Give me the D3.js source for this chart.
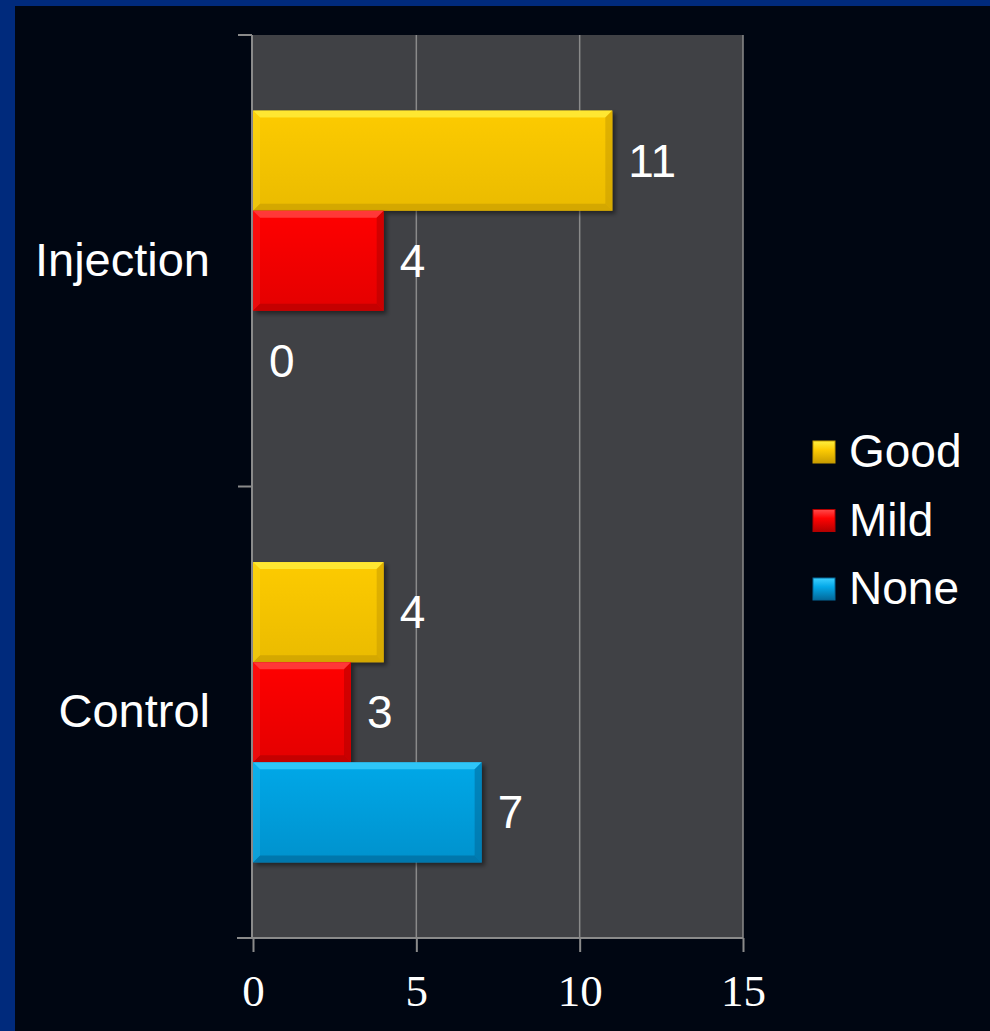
<!DOCTYPE html>
<html>
<head>
<meta charset="utf-8">
<script src="https://cdn.jsdelivr.net/npm/d3@7"></script>
<style>
  html, body { margin: 0; padding: 0; background: #000612; }
  svg { display: block; }
</style>
</head>
<body>
<svg id="chart"></svg>
<script>
// chart data
var categories = ["Injection", "Control"];
var seriesNames = ["Good", "Mild", "None"];
var goodValues = [11, 4];
var mildValues = [4, 3];
var noneValues = [0, 7];
var xTicks = [0, 5, 10, 15];

var colors = {
    Good: {base: "#fdcb03", light: "#fff040", dark: "#c89c00"},
    Mild: {base: "#ff0303", light: "#ff4a4a", dark: "#b30000"},
    None: {base: "#04a8e8", light: "#3dd0ff", dark: "#04699a"}
};

var W = 990, H = 1031;
var svg = d3.select("#chart").attr("width", W).attr("height", H);

// background + blue frame
svg.append("rect").attr("width", W).attr("height", H).attr("fill", "#002a7c");
svg.append("rect").attr("x", 15).attr("y", 6).attr("width", W - 15).attr("height", H - 6).attr("fill", "#000612");

var defs = svg.append("defs");
defs.append("filter").attr("id", "shadow")
    .attr("x", "-5%").attr("y", "-10%").attr("width", "115%").attr("height", "130%")
    .append("feDropShadow")
    .attr("dx", 3).attr("dy", 3).attr("stdDeviation", 2)
    .attr("flood-color", "#000").attr("flood-opacity", 0.45);

seriesNames.forEach(function(s) {
    var g = defs.append("linearGradient").attr("id", "grad-" + s)
        .attr("x1", 0).attr("y1", 0).attr("x2", 0).attr("y2", 1);
    g.append("stop").attr("offset", "0%").attr("stop-color", colors[s].light);
    g.append("stop").attr("offset", "40%").attr("stop-color", colors[s].base);
    g.append("stop").attr("offset", "100%").attr("stop-color", colors[s].dark);
    // soft body shading for bars
    var b = defs.append("linearGradient").attr("id", "body-" + s)
        .attr("x1", 0).attr("y1", 0).attr("x2", 0).attr("y2", 1);
    b.append("stop").attr("offset", "0%").attr("stop-color", colors[s].base);
    b.append("stop").attr("offset", "100%").attr("stop-color", d3.interpolateRgb(colors[s].base, colors[s].dark)(0.35));
});

// plot box
var plotLeft = 253, plotRight = 743, plotTop = 35, plotBottom = 938;

// scales
var x = d3.scaleLinear().domain([0, 15]).range([plotLeft, plotRight]);
var y = d3.scaleBand().domain(categories).range([plotTop, plotBottom]);
var ySub = d3.scaleBand().domain(seriesNames).range([0, y.bandwidth()])
    .paddingInner(0).paddingOuter(0.755);

// plot area
svg.append("rect")
    .attr("x", plotLeft).attr("y", plotTop)
    .attr("width", plotRight - plotLeft).attr("height", plotBottom - plotTop)
    .attr("fill", "#404145");

// gridlines
svg.selectAll(".grid")
    .data(xTicks.slice(1))
    .enter()
    .append("line")
    .attr("class", "grid")
    .attr("x1", function(d) { return x(d); })
    .attr("x2", function(d) { return x(d); })
    .attr("y1", plotTop).attr("y2", plotBottom)
    .attr("stroke", "#8a8a8a").attr("stroke-width", 1.5);

// x axis
var xAxis = svg.append("g")
    .attr("transform", "translate(0," + plotBottom + ")")
    .call(d3.axisBottom(x).tickValues(xTicks).tickSize(14).tickPadding(22).tickSizeOuter(0));
xAxis.select(".domain").remove();
xAxis.append("line")
    .attr("x1", plotLeft - 16).attr("x2", plotRight)
    .attr("stroke", "#8a8a8a").attr("stroke-width", 2);
xAxis.selectAll(".tick line").attr("stroke", "#8a8a8a").attr("stroke-width", 2);
xAxis.selectAll(".tick text")
    .attr("fill", "#fff")
    .attr("font-family", "'Liberation Serif', 'Times New Roman', serif")
    .attr("font-size", "45px");

// y axis line and band ticks
svg.append("line")
    .attr("x1", plotLeft - 1).attr("x2", plotLeft - 1)
    .attr("y1", plotTop).attr("y2", plotBottom)
    .attr("stroke", "#8a8a8a").attr("stroke-width", 2);
var bounds = categories.map(function(c) { return y(c); }).concat([plotBottom]);
svg.selectAll(".ytick")
    .data(bounds)
    .enter()
    .append("line")
    .attr("class", "ytick")
    .attr("x1", plotLeft - 15).attr("x2", plotLeft - 1)
    .attr("y1", function(d) { return d; })
    .attr("y2", function(d) { return d; })
    .attr("stroke", "#8a8a8a").attr("stroke-width", 2);

// category labels
svg.selectAll(".cat")
    .data(categories)
    .enter()
    .append("text")
    .attr("class", "cat")
    .attr("x", 210)
    .attr("y", function(d) { return y(d) + y.bandwidth() / 2 + 15; })
    .attr("text-anchor", "end")
    .attr("font-family", "'Liberation Sans', Arial, sans-serif")
    .attr("font-size", "47px")
    .attr("fill", "#fff")
    .text(function(d) { return d; });

// flatten data
var data = [];
categories.forEach(function(c, i) {
    data.push({cat: c, s: "Good", v: goodValues[i]});
    data.push({cat: c, s: "Mild", v: mildValues[i]});
    data.push({cat: c, s: "None", v: noneValues[i]});
});

// bars with bevel
var bars = svg.selectAll(".bar")
    .data(data.filter(function(d) { return d.v > 0; }))
    .enter()
    .append("g")
    .attr("class", "bar")
    .attr("filter", "url(#shadow)");

bars.append("rect")
    .attr("x", x(0))
    .attr("y", function(d) { return y(d.cat) + ySub(d.s); })
    .attr("width", function(d) { return x(d.v) - x(0); })
    .attr("height", ySub.bandwidth())
    .attr("fill", function(d) { return "url(#body-" + d.s + ")"; });

function bevel(d, side) {
    var x0 = x(0), x1 = x(d.v);
    var y0 = y(d.cat) + ySub(d.s), y1 = y0 + ySub.bandwidth();
    var b = Math.min(7, (x1 - x0) / 2);
    if (side == "top") return [[x0, y0], [x1, y0], [x1 - b, y0 + b], [x0 + b, y0 + b]];
    if (side == "bottom") return [[x0, y1], [x1, y1], [x1 - b, y1 - b], [x0 + b, y1 - b]];
    if (side == "right") return [[x1, y0], [x1, y1], [x1 - b, y1 - b], [x1 - b, y0 + b]];
    return [[x0, y0], [x0, y1], [x0 + b, y1 - b], [x0 + b, y0 + b]];
}
var sides = [
    {side: "top", tone: "light", op: 0.75},
    {side: "bottom", tone: "dark", op: 0.65},
    {side: "right", tone: "dark", op: 0.55},
    {side: "left", tone: "light", op: 0.2}
];
sides.forEach(function(sd) {
    bars.append("polygon")
        .attr("points", function(d) { return bevel(d, sd.side).join(" "); })
        .attr("fill", function(d) { return colors[d.s][sd.tone]; })
        .attr("opacity", sd.op);
});

// value labels
svg.selectAll(".bar-label")
    .data(data)
    .enter()
    .append("text")
    .attr("class", "bar-label")
    .attr("x", function(d) { return x(d.v) + 16; })
    .attr("y", function(d) { return y(d.cat) + ySub(d.s) + ySub.bandwidth() / 2 + 16; })
    .attr("font-family", "'Liberation Sans', Arial, sans-serif")
    .attr("font-size", "46px")
    .attr("fill", "#fff")
    .text(function(d) { return d.v; });

// legend
var legend = svg.selectAll(".legend")
    .data(seriesNames)
    .enter()
    .append("g")
    .attr("class", "legend")
    .attr("transform", function(d, i) { return "translate(813," + (441 + i * 68.5) + ")"; });
legend.append("rect")
    .attr("width", 22).attr("height", 22)
    .attr("fill", function(d) { return "url(#grad-" + d + ")"; })
    .attr("stroke", function(d) { return colors[d].dark; })
    .attr("stroke-width", 1);
legend.append("text")
    .attr("x", 36).attr("y", 26)
    .attr("font-family", "'Liberation Sans', Arial, sans-serif")
    .attr("font-size", "46px")
    .attr("fill", "#fff")
    .text(function(d) { return d; });
</script>
</body>
</html>
